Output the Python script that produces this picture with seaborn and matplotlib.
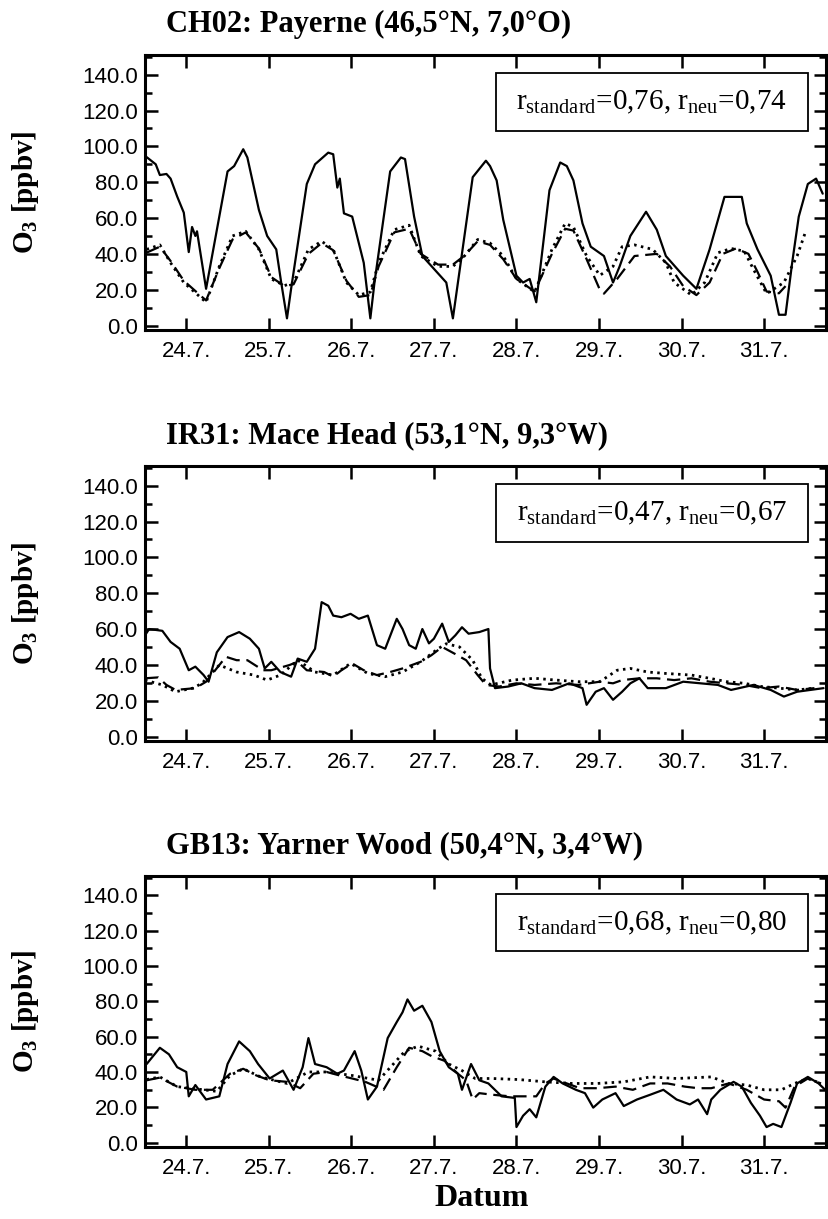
import matplotlib
matplotlib.use("Agg")
import matplotlib.pyplot as plt
import seaborn as sns
import pandas as pd
from matplotlib.ticker import MultipleLocator, FormatStrFormatter, FixedLocator
from matplotlib.patches import Rectangle

# ---------------------------------------------------------------- data
# time axis: day of July (24.0 = 24.7.)
day_ticks = [24, 25, 26, 27, 28, 29, 30, 31]
day_labels = ["24.7.", "25.7.", "26.7.", "27.7.", "28.7.", "29.7.", "30.7.", "31.7."]

stations = [
    "CH02: Payerne (46,5°N, 7,0°O)",
    "IR31: Mace Head (53,1°N, 9,3°W)",
    "GB13: Yarner Wood (50,4°N, 3,4°W)",
]
r_standard = ["0,76", "0,47", "0,68"]
r_neu = ["0,74", "0,67", "0,80"]

# Payerne
pay_obs_t = [23.52, 23.63, 23.68, 23.76, 23.81, 23.89, 23.97, 24.03, 24.07, 24.11, 24.13, 24.24,
             24.50, 24.58, 24.69, 24.74, 24.88, 24.98, 25.09, 25.15, 25.22, 25.27, 25.46, 25.56,
             25.72, 25.78, 25.83, 25.86, 25.91, 26.01, 26.15, 26.23, 26.28, 26.47, 26.60, 26.65,
             26.76, 26.86, 27.15, 27.23, 27.47, 27.63, 27.68, 27.76, 27.84, 28.00, 28.08, 28.16,
             28.24, 28.40, 28.53, 28.61, 28.69, 28.80, 28.90, 29.06, 29.17, 29.25, 29.38, 29.57,
             29.70, 29.81, 30.02, 30.18, 30.34, 30.52, 30.73, 30.79, 30.92, 31.08, 31.18, 31.26,
             31.34, 31.42, 31.53, 31.63, 31.71]
pay_obs = [94, 90, 84, 84.6, 82, 72, 63, 41, 55, 50, 52.6, 20.5,
           86, 89, 98.4, 93.8, 64.5, 50, 42.5, 24, 4, 20.5, 79, 90,
           96.5, 95.6, 77, 82, 62.6, 60.8, 35, 4, 24, 86, 93.8, 92.9,
           60.8, 38.8, 24, 4, 82.8, 92, 89, 81, 59, 27.8, 24, 26,
           13, 75.5, 91, 89, 81, 57, 44, 38.8, 24, 33, 50, 63.5,
           53.5, 38.8, 27.8, 20.5, 42.5, 71.8, 71.8, 57, 42.5, 27.8, 6, 6,
           35, 60.8, 79, 82, 73.6]
pay_std_t = [23.52, 23.68, 23.81, 23.97, 24.19, 24.24, 24.40, 24.56, 24.72, 24.88, 25.03, 25.19,
             25.30, 25.48, 25.64, 25.78, 25.94, 26.09, 26.23, 26.33, 26.52, 26.70, 26.84, 27.05,
             27.23, 27.37, 27.53, 27.68, 27.84, 28.00, 28.22, 28.43, 28.59, 28.69, 28.85, 29.01,
             29.06, 29.22, 29.43, 29.70, 29.86, 30.02, 30.18, 30.34, 30.50, 30.66, 30.81, 30.92,
             31.03, 31.18, 31.26]
pay_std = [40.7, 44, 36, 25, 16, 14, 32, 48, 52, 43, 27, 22,
           23, 40, 46, 42, 25, 16, 17, 33, 52, 54, 40, 34,
           34, 39, 47, 45, 37, 26, 19, 40, 54, 53, 37, 20,
           17.8, 26, 38.8, 40, 33, 22, 17, 24, 40, 43, 40, 30,
           19, 18, 22]
pay_neu_t = [23.52, 23.68, 23.81, 23.97, 24.19, 24.24, 24.40, 24.56, 24.72, 24.88, 25.03, 25.19,
             25.30, 25.48, 25.64, 25.78, 25.94, 26.09, 26.23, 26.33, 26.52, 26.70, 26.84, 27.05,
             27.23, 27.37, 27.53, 27.68, 27.84, 28.00, 28.22, 28.43, 28.59, 28.69, 28.85, 29.01,
             29.17, 29.28, 29.43, 29.65, 29.81, 29.91, 30.12, 30.28, 30.44, 30.60, 30.76, 30.87,
             31.03, 31.24, 31.40, 31.50]
pay_neu = [42.5, 45, 35, 24, 15, 13, 33, 50, 52.6, 42.5, 26, 22.3,
           24, 42.5, 47, 42.5, 24, 17, 18.7, 35, 53.5, 56, 38.8, 33,
           33, 38.8, 48, 46, 38.8, 26, 18.7, 42.5, 57, 55, 38.8, 28,
           33, 44, 45, 42.5, 35, 24, 17, 24, 40.6, 43, 41.5, 31.5,
           17.8, 24, 38.8, 52]

# Mace Head
mac_obs_t = [23.50, 23.55, 23.71, 23.81, 23.92, 24.03, 24.11, 24.21, 24.27, 24.37, 24.50, 24.64,
             24.77, 24.88, 24.95, 25.03, 25.14, 25.27, 25.35, 25.46, 25.56, 25.64, 25.72, 25.78,
             25.88, 25.99, 26.09, 26.20, 26.31, 26.41, 26.55, 26.62, 26.70, 26.78, 26.86, 26.94,
             27.00, 27.10, 27.18, 27.26, 27.34, 27.42, 27.55, 27.66, 27.68, 27.74, 27.90, 28.06,
             28.22, 28.43, 28.64, 28.80, 28.85, 28.96, 29.06, 29.17, 29.28, 29.38, 29.49, 29.59,
             29.81, 30.02, 30.23, 30.44, 30.60, 30.87, 31.08, 31.24, 31.40, 31.56, 31.72]
mac_obs = [56.5, 60, 59, 52.8, 49, 37, 39, 34.3, 30.6, 47, 55.5, 58.3,
           54.6, 49, 38, 41.7, 36, 33.4, 43.5, 41.7, 49, 75, 73, 67.5,
           66.6, 68.5, 65.7, 67.5, 51, 49, 65.7, 60, 51, 49, 60, 52,
           54.6, 63, 52.8, 56.5, 61, 57.4, 58.3, 60, 38, 27, 27.9, 29.7,
           27, 26, 29.7, 27, 17.7, 25, 27, 20.5, 25, 29.7, 32.5, 27,
           27, 30.6, 29.7, 28.8, 26, 28.8, 26, 22.3, 25, 26, 27]
mac_std_t = [23.50, 23.66, 23.76, 23.87, 24.11, 24.24, 24.48, 24.61, 24.74, 24.93, 25.03, 25.25,
             25.35, 25.46, 25.67, 25.78, 25.88, 26.01, 26.15, 26.31, 26.47, 26.62, 26.84, 26.97,
             27.10, 27.26, 27.39, 27.53, 27.63, 27.79, 28.00, 28.22, 28.48, 28.75, 29.01, 29.17,
             29.28, 29.49, 29.70, 29.91, 30.12, 30.34, 30.55, 30.76, 30.97, 31.18, 31.40, 31.61]
mac_std = [32.5, 33, 28.8, 26, 27, 30.6, 44.5, 42.6, 42.6, 37, 37, 39.9,
           41.7, 37, 36, 33.4, 37, 40.8, 37, 34.3, 36, 38, 41.7, 45.4,
           50, 46, 42.6, 34.3, 28.8, 27.9, 29.7, 28.8, 29.7, 28.8, 30.6, 29.7,
           31.5, 32.5, 32.5, 31.5, 32.5, 30.6, 29.7, 28.8, 27, 27.9, 26, 27]
mac_neu_t = [23.50, 23.71, 23.87, 24.08, 24.19, 24.40, 24.61, 24.82, 24.98, 25.14, 25.35, 25.56,
             25.78, 25.99, 26.20, 26.41, 26.62, 26.84, 27.05, 27.15, 27.31, 27.47, 27.58, 27.69,
             27.95, 28.22, 28.48, 28.75, 29.01, 29.22, 29.38, 29.59, 29.81, 30.12, 30.34, 30.55,
             30.76, 30.97, 31.18, 31.40, 31.61]
mac_neu = [31.5, 28.8, 25, 27, 29.7, 39.9, 36, 34.3, 31.5, 34.3, 42.6, 36,
           34.3, 40.8, 35.2, 33.4, 36, 41.7, 49, 51.8, 50, 42.6, 32.5, 28.8,
           31.5, 32.5, 31.5, 30.6, 30.6, 37, 38, 36, 35.2, 34.3, 32.5, 30.6,
           29.7, 27.9, 27, 26, 27]

# Yarner Wood
yar_obs_t = [23.52, 23.68, 23.79, 23.89, 24.00, 24.03, 24.11, 24.24, 24.40, 24.50, 24.64, 24.77,
             24.87, 25.01, 25.17, 25.30, 25.41, 25.48, 25.56, 25.70, 25.83, 25.91, 26.04, 26.12,
             26.20, 26.31, 26.44, 26.55, 26.62, 26.68, 26.76, 26.86, 26.97, 27.07, 27.18, 27.29,
             27.34, 27.45, 27.55, 27.66, 27.82, 27.98, 28.00, 28.08, 28.16, 28.24, 28.35, 28.45,
             28.56, 28.72, 28.83, 28.93, 29.04, 29.20, 29.30, 29.46, 29.62, 29.78, 29.94, 30.10,
             30.20, 30.31, 30.36, 30.47, 30.63, 30.73, 30.84, 30.95, 31.03, 31.11, 31.21, 31.32,
             31.40, 31.53, 31.66, 31.74]
yar_obs = [44.5, 53.7, 50, 42.7, 40, 26.2, 32.6, 24.4, 26.2, 44.5, 57.3, 51.8,
           44.5, 36.3, 40.8, 29.9, 42.7, 59.2, 44.5, 42.7, 39, 40.8, 51.8, 40.8,
           24.4, 31.7, 59.2, 68.3, 73.8, 81.1, 74.7, 77.5, 68.3, 51.8, 42.7, 39,
           29.9, 44.5, 35.3, 33.5, 26.2, 25.3, 8.8, 15.2, 18.9, 14.3, 31.7, 37.2,
           33.5, 29.9, 28, 19.8, 24.4, 28, 20.7, 24.4, 27.1, 29.9, 24.4, 21.6,
           24.4, 16.1, 24.4, 29.9, 34.4, 31.7, 22.5, 15.2, 8.8, 10.6, 8.8, 22.5,
           33.5, 37.2, 33.5, 29.9]
yar_std_t = [23.52, 23.68, 23.89, 24.11, 24.32, 24.53, 24.69, 24.85, 25.01, 25.22, 25.38, 25.54,
             25.70, 25.86, 26.01, 26.17, 26.39, 26.55, 26.70, 26.86, 26.97, 27.13, 27.29, 27.39,
             27.47, 27.55, 27.71, 27.92, 28.08, 28.24, 28.35, 28.45, 28.61, 28.77, 28.98, 29.20,
             29.41, 29.62, 29.83, 30.04, 30.20, 30.36, 30.57, 30.79, 31.00, 31.18, 31.26, 31.37,
             31.53, 31.69]
yar_std = [35.3, 36.8, 31.7, 29.9, 29.9, 39, 41.8, 38, 35.3, 34.4, 30.8, 39,
           40, 38, 36.3, 34.4, 29.9, 42.7, 53.7, 51.8, 49, 46.3, 39, 35.3,
           24.4, 28, 27.1, 26.2, 26.2, 26.2, 33.5, 36.3, 33.5, 30.8, 30.8, 31.7,
           29.9, 33.5, 33.5, 31.7, 30.8, 30.8, 33.5, 29.9, 24.4, 23.4, 19.8, 31.7,
           36.3, 33.5]
yar_neu_t = [23.52, 23.68, 23.89, 24.21, 24.37, 24.53, 24.69, 24.90, 25.22, 25.48, 25.70, 26.01,
             26.33, 26.65, 26.81, 27.02, 27.18, 27.34, 27.50, 27.71, 28.03, 28.35, 28.67, 28.98,
             29.30, 29.62, 29.94, 30.36, 30.57, 30.79, 31.00, 31.21, 31.37, 31.53, 31.69]
yar_neu = [35.7, 37.2, 31.7, 29.9, 29, 38, 41.8, 37.2, 33.5, 40, 40, 38,
           35.3, 51.8, 54.6, 51.8, 44.5, 40.8, 36.3, 36.3, 35.7, 34.4, 33.5, 33.5,
           34.4, 37.2, 36.3, 37.2, 33.5, 32.6, 29.9, 29.9, 33.5, 36.3, 33.5]

panels = [
    (pay_obs_t, pay_obs, pay_std_t, pay_std, pay_neu_t, pay_neu),
    (mac_obs_t, mac_obs, mac_std_t, mac_std, mac_neu_t, mac_neu),
    (yar_obs_t, yar_obs, yar_std_t, yar_std, yar_neu_t, yar_neu),
]

# ---------------------------------------------------------------- style
sns.set_theme(style="ticks")
plt.rcParams.update({
    "font.family": ["Liberation Sans", "DejaVu Sans"],
    "mathtext.fontset": "custom",
    "mathtext.rm": "Liberation Serif",
    "mathtext.it": "Liberation Serif:italic",
    "mathtext.bf": "Liberation Serif:bold",
    "axes.linewidth": 2.2,
    "axes.edgecolor": "black",
    "axes.labelcolor": "black",
    "text.color": "black",
    "xtick.color": "black",
    "ytick.color": "black",
    "xtick.labelcolor": "black",
    "ytick.labelcolor": "black",
})

W, H = 829, 1219
fig = plt.figure(figsize=(W / 100, H / 100), dpi=100)

ax_left, ax_right = 145, 826
tops = [55, 466, 876]
heights = [275, 275, 271]
title_base = [32, 443, 853]

serif = "Liberation Serif"

for i, (ot, ov, st, sv, nt, nv) in enumerate(panels):
    top, ax_h = tops[i], heights[i]
    ax = fig.add_axes([ax_left / W, 1 - (top + ax_h) / H, (ax_right - ax_left) / W, ax_h / H])

    obs = pd.DataFrame({"t": ot, "o3": ov})
    std = pd.DataFrame({"t": st, "o3": sv})
    neu = pd.DataFrame({"t": nt, "o3": nv})

    sns.lineplot(data=obs, x="t", y="o3", ax=ax, color="black", lw=1.6,
                 estimator=None, sort=False)
    sns.lineplot(data=std, x="t", y="o3", ax=ax, color="black", lw=1.6,
                 linestyle=(0, (6, 3)), estimator=None, sort=False)
    sns.lineplot(data=neu, x="t", y="o3", ax=ax, color="black", lw=2.0,
                 linestyle=(0, (0.9, 1.6)), estimator=None, sort=False)

    ax.set_xlim(23.5, 31.75)
    ax.set_ylim(-2.5, 151)
    ax.xaxis.set_major_locator(FixedLocator(day_ticks))
    ax.set_xticklabels(day_labels)
    ax.yaxis.set_major_locator(MultipleLocator(20))
    ax.yaxis.set_minor_locator(MultipleLocator(10))
    ax.yaxis.set_major_formatter(FormatStrFormatter("%.1f"))
    ax.tick_params(axis="both", which="both", direction="in", top=True, right=True,
                   width=1.8, labelsize=16)
    ax.tick_params(axis="both", which="major", length=9)
    ax.tick_params(axis="y", which="minor", length=5)
    ax.tick_params(axis="x", pad=8)
    ax.tick_params(axis="y", pad=5)
    ax.set_xlabel("")
    ax.set_ylabel("")

    # y axis title, placed in figure pixels left of the axes
    fig.text(26 / W, 1 - (top + ax_h / 2) / H, r"O$_\mathbf{3}$ [ppbv]", rotation=90,
             ha="center", va="center", fontfamily=serif, fontweight="bold", fontsize=21)

    # correlation box
    ax.add_patch(Rectangle((0.515, 0.725), 0.458, 0.21, transform=ax.transAxes,
                           fill=False, lw=1.3, ec="black", zorder=5))
    ax.text(0.744, 0.826,
            r"$\mathrm{r_{standard}}$=" + r_standard[i] + r", $\mathrm{r_{neu}}$=" + r_neu[i],
            transform=ax.transAxes, ha="center", va="center",
            fontfamily=serif, fontsize=21, zorder=6)

    fig.text(166 / W, 1 - title_base[i] / H, stations[i], ha="left", va="baseline",
             fontfamily=serif, fontweight="bold", fontsize=22)

fig.text(482 / W, 1 - 1206 / H, "Datum", ha="center", va="baseline",
         fontfamily=serif, fontweight="bold", fontsize=23)

fig.savefig("out.png", dpi=100, facecolor="white")
